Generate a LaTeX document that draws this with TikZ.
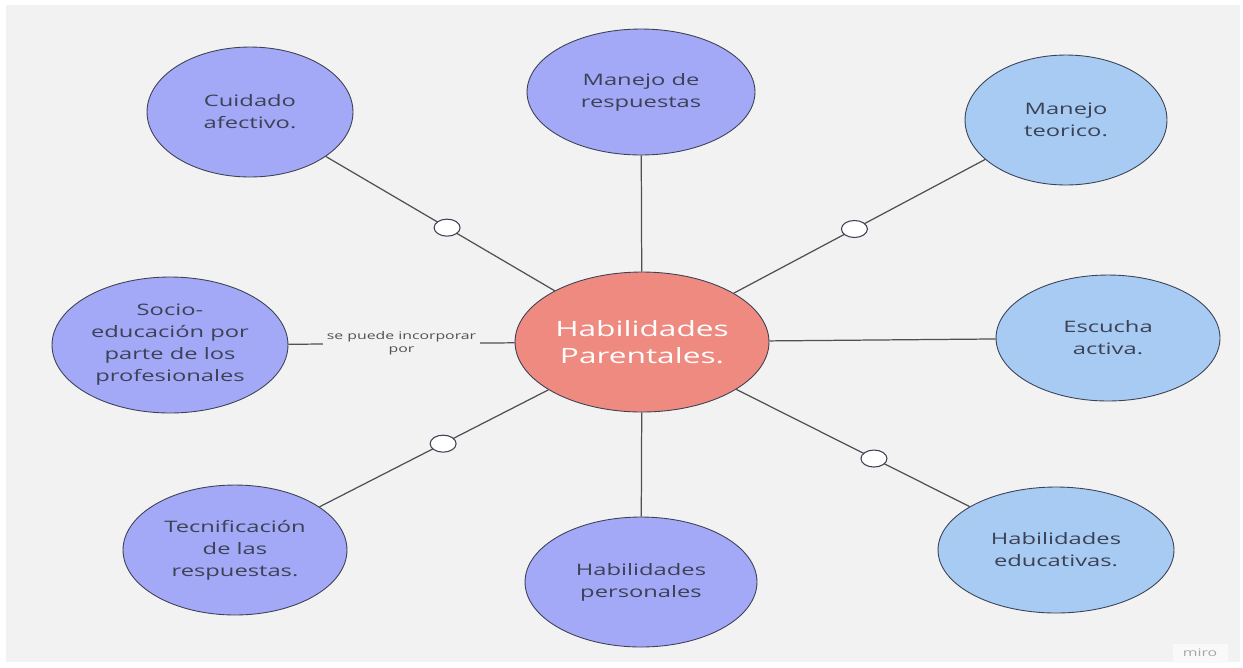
\documentclass[tikz,border=0pt]{standalone}
\usepackage{fontspec}
\setmainfont{Open Sans}[FakeStretch=1.5]
\usepackage{xcolor}
\usepackage{tikz}
\usetikzlibrary{positioning,shapes.geometric}

\definecolor{bgGray}{HTML}{F2F2F2}
\definecolor{lavender}{HTML}{A3A9F7}
\definecolor{skyBlue}{HTML}{A7CBF2}
\definecolor{salmon}{HTML}{EF8A80}
\definecolor{inkDark}{HTML}{3C4154}
\definecolor{lineGray}{HTML}{505050}

\begin{document}
\begin{tikzpicture}[x=0.02cm,y=-0.02cm,
  bubble/.style={ellipse,draw=inkDark,line width=0.5pt,inner sep=0pt,align=center,
    text=inkDark,font=\fontsize{9}{12.5}\selectfont},
  lav/.style={bubble,fill=lavender},
  sky/.style={bubble,fill=skyBlue},
  knot/.style={ellipse,draw=inkDark,fill=white,line width=0.6pt,
    minimum width=0.52cm,minimum height=0.34cm,inner sep=0pt},
  link/.style={draw=lineGray,line width=0.7pt}]
  % canvas
  \useasboundingbox (0,0) rectangle (1243,667);
  \fill[white] (0,0) rectangle (1243,667);
  \fill[bgGray] (6,5) rectangle (1240,662);
  % centre
  \node[bubble,fill=salmon,text=white,minimum width=5.08cm,minimum height=2.8cm,
    font=\fontsize{12}{15.4}\selectfont] (hab) at (642,342) {Habilidades\\Parentales.};
  % outer bubbles
  \node[lav,minimum width=4.12cm,minimum height=2.6cm] (cuid) at (250,112) {Cuidado\\afectivo.};
  \node[lav,minimum width=4.56cm,minimum height=2.52cm] (mresp) at (641,92) {Manejo de\\respuestas};
  \node[sky,minimum width=4.04cm,minimum height=2.6cm] (mteo) at (1066,120) {Manejo\\teorico.};
  \node[lav,minimum width=4.72cm,minimum height=2.72cm] (socio) at (170,345) {Socio-\\educación por\\parte de los\\profesionales};
  \node[sky,minimum width=4.48cm,minimum height=2.52cm] (escu) at (1108,338) {Escucha\\activa.};
  \node[lav,minimum width=4.48cm,minimum height=2.6cm] (tecn) at (235,550) {Tecnificación\\de las\\respuestas.};
  \node[lav,minimum width=4.64cm,minimum height=2.6cm] (hpers) at (641,582) {Habilidades\\personales};
  \node[sky,minimum width=4.72cm,minimum height=2.52cm] (heduc) at (1056,550) {Habilidades\\educativas.};
  % connectors
  \draw[link] (hab) -- node[knot,pos=0.47] (k1) {} (cuid);
  \draw[link] (hab) -- (mresp);
  \draw[link] (hab) -- node[knot,pos=0.48] (k2) {} (mteo.206);
  \draw[link] (hab) -- node[fill=bgGray,text=lineGray,align=center,inner sep=2pt,
    font=\fontsize{6}{7.4}\selectfont] (incorp) {se puede incorporar\\por} (socio);
  \draw[link] (hab) -- (escu);
  \draw[link] (hab) -- node[knot,pos=0.46] (k3) {} (tecn);
  \draw[link] (hab) -- (hpers);
  \draw[link] (hab) -- node[knot,pos=0.59] (k4) {} (heduc);
  % watermark
  \node[fill=white!55!bgGray,text=black!35,minimum width=1.1cm,minimum height=0.38cm,
    inner sep=0pt,font=\fontsize{6}{7}\selectfont] (miro) at (1200,653) {miro};
\end{tikzpicture}
\end{document}
